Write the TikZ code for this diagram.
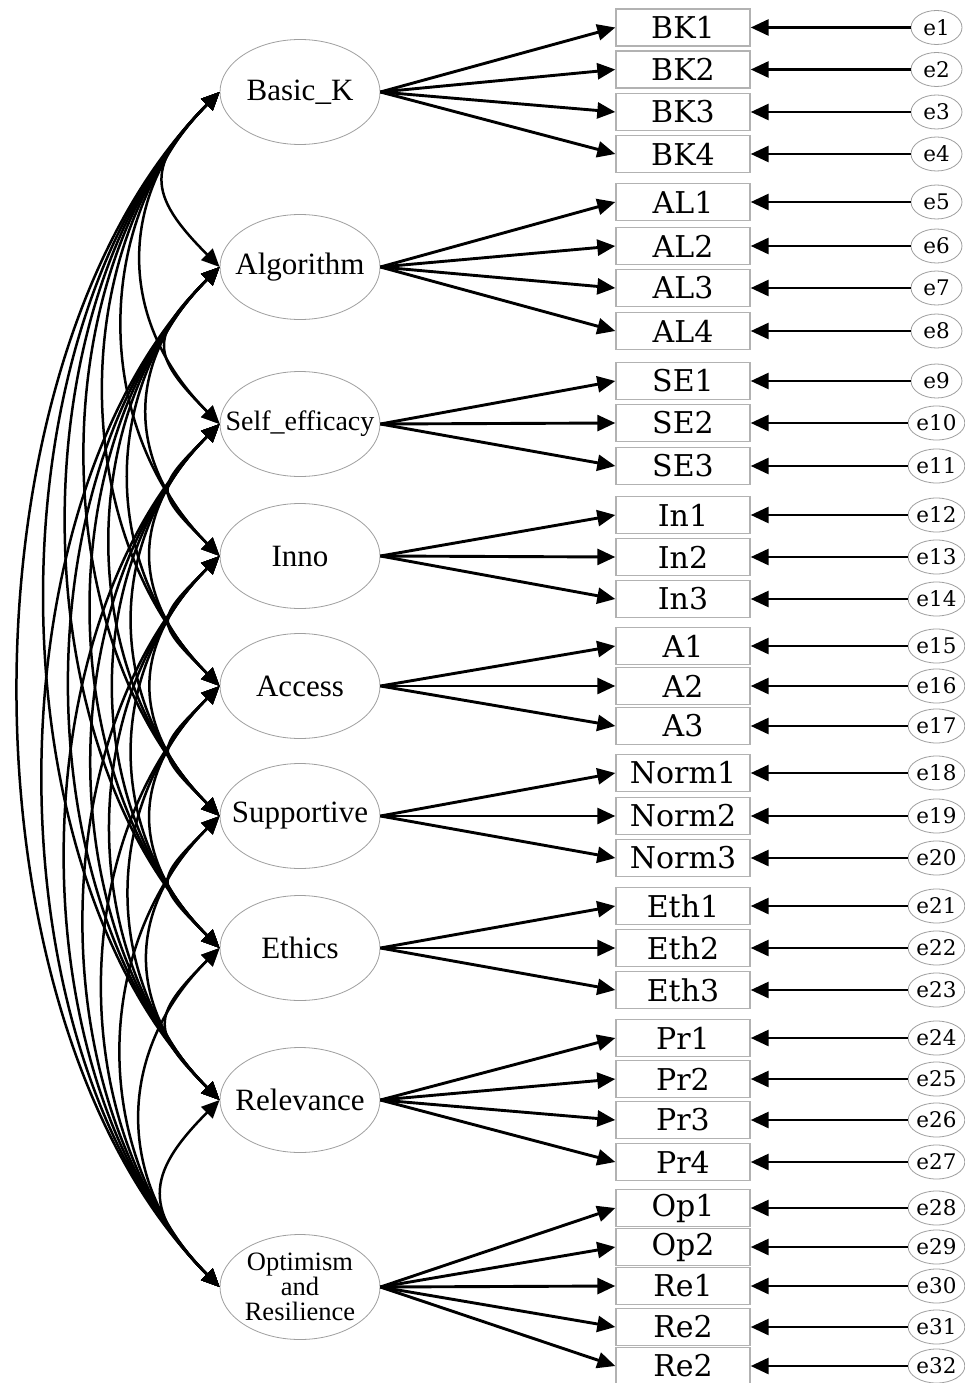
\documentclass[tikz,border=0pt]{standalone}
\usepackage{fontspec}
\usetikzlibrary{shapes.geometric,arrows.meta}
\newfontfamily\latfont{Liberation Serif}
\newfontfamily\obsfont{DejaVu Serif}

\begin{document}
\begin{tikzpicture}[x=1pt,y=-1pt,
  latent/.style={ellipse, draw=gray!75, line width=0.8pt, minimum width=160pt,
                 minimum height=105pt, inner sep=0pt},
  lattext/.style={inner sep=0pt, align=center, font=\latfont\fontsize{31}{31}\selectfont},
  indicator/.style={rectangle, draw=gray!60, line width=1.4pt, minimum width=134pt,
                    minimum height=37pt, inner sep=0pt, font=\obsfont\fontsize{30}{30}\selectfont},
  errvar/.style={ellipse, draw=gray!75, line width=0.8pt, minimum width=51pt,
                 minimum height=34pt, inner sep=0pt, font=\obsfont\fontsize{21.5}{21.5}\selectfont},
  load/.style={line width=2.9pt, -{Triangle[length=18pt,width=16pt]}},
  cov/.style={line width=2.5pt, {Triangle[length=18pt,width=16pt]}-{Triangle[length=18pt,width=16pt]}},
]
\useasboundingbox (0,0) rectangle (964,1383);
\fill[white] (0,0) rectangle (964,1383);

% latent factors
\foreach \n/\y/\t in {bk/92/Basic\_K, al/267/Algorithm, in/556/Inno, ac/686/Access,
                      su/816/Supportive, et/948/Ethics, re/1100/Relevance}{
  \node[latent] (\n) at (300,\y) {};
  \node[lattext] (\n t) at (\n) {\t};
}
\node[latent] (se) at (300,424) {};
\node[lattext, font=\latfont\fontsize{28}{28}\selectfont] (se t) at (se) {Self\_efficacy};
\node[latent] (op) at (300,1287) {};
\node[lattext, font=\latfont\fontsize{26.5}{25}\selectfont] (op t) at (op) {Optimism\\and\\Resilience};

% observed indicators with their error terms
\foreach \t/\y/\l [count=\k] in {
  BK1/27.5/bk, BK2/69.5/bk, BK3/112/bk, BK4/154/bk,
  AL1/202/al, AL2/246/al, AL3/288/al, AL4/331/al,
  SE1/381/se, SE2/423/se, SE3/466/se,
  In1/515/in, In2/557/in, In3/599/in,
  A1/646/ac, A2/686/ac, A3/726/ac,
  Norm1/773/su, Norm2/816/su, Norm3/858/su,
  Eth1/906/et, Eth2/948/et, Eth3/990/et,
  Pr1/1038/re, Pr2/1079/re, Pr3/1120/re, Pr4/1162/re,
  Op1/1208/op, Op2/1247/op, Re1/1286/op, Re2/1327/op, Re2/1366/op}{
  \node[indicator] (i\k) at (683,\y) {\t};
  \node[errvar] (e\k) at (936.5,\y) {e\k};
  \draw[load] (\l.east) -- (i\k.west);
  \draw[load] (e\k.west) -- (i\k.east);
}

% covariances between every pair of factors
\foreach \a/\ya [count=\i] in {bk/92, al/267, se/424, in/556, ac/686, su/816, et/948, re/1100, op/1287}{
  \foreach \b/\yb [count=\j] in {bk/92, al/267, se/424, in/556, ac/686, su/816, et/948, re/1100, op/1287}{
    \ifnum\j>\i
      \pgfmathsetmacro\cl{0.7071*(57+0.268*(\yb-\ya))}
      \draw[cov] (\a.west) .. controls +(-\cl,\cl) and +(-\cl,-\cl) .. (\b.west);
    \fi
  }
}
\end{tikzpicture}
\end{document}
